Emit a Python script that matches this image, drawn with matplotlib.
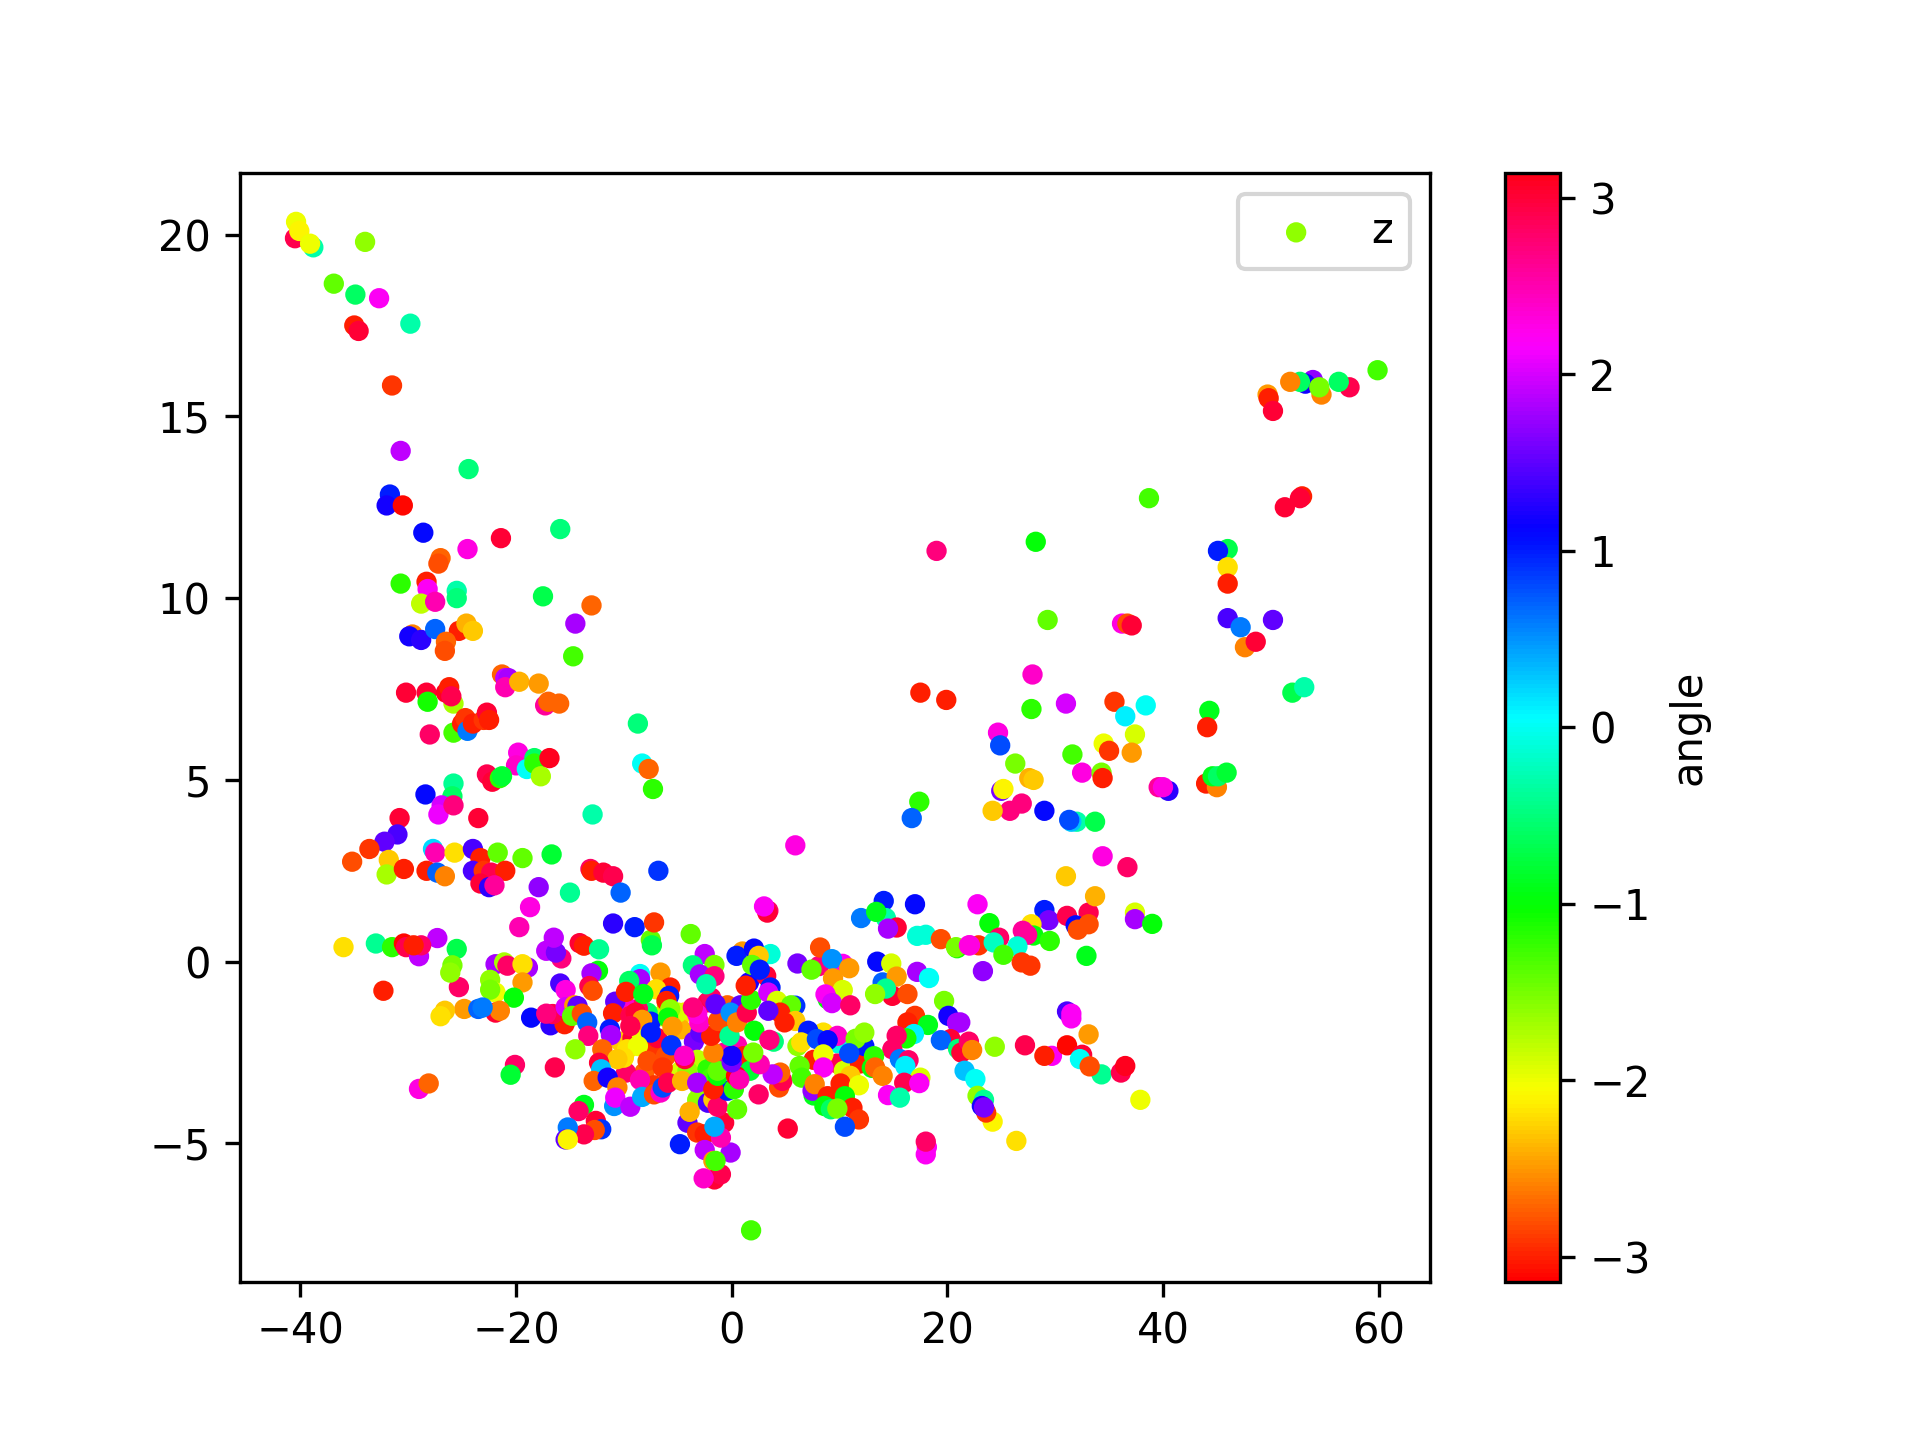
import numpy as np
import matplotlib
matplotlib.use("Agg")
import matplotlib.pyplot as plt

# (x, y, angle) rows, by region of the plot
upper_left = [
(-34,19.8,-1.6),(-40.5,19.9,2.9),(-40.4,20.35,-2.0),(-40.1,20.1,-2.1),(-38.8,19.65,-0.3),(-39.1,19.75,-2.0),
(-36.9,18.65,-1.4),(-34.9,18.35,-0.6),(-32.7,18.25,2.2),(-29.8,17.55,-0.3),(-35,17.5,-3.0),(-34.6,17.35,3.0),
(-31.5,15.85,-2.9),(-30.7,14.05,1.9),(-24.4,13.55,-0.5),(-31.7,12.85,1.0),(-32,12.55,1.2),(-30.5,12.55,-3.1),
(-28.6,11.8,1.1),(-24.5,11.35,2.3),(-21.4,11.65,3.0),(-15.9,11.9,-0.5),(-30.7,10.4,-1.2),(-28.3,10.45,-3.0),
(-28.2,10.25,2.2),(-28.8,9.85,-1.8),(-27.5,9.9,2.5),(-27,11.1,-2.7),(-27.2,10.95,-2.8),(-25.5,10.2,-0.3),
(-25.5,10.0,-0.5),(-17.5,10.05,-0.7),(-13,9.8,-2.7),(-29.6,9.0,-2.6),(-29.9,8.95,1.2),(-28.8,8.85,1.3),
(-27.5,9.15,0.7),(-25.3,9.1,-3.0),(-24.6,9.3,-2.4),(-24,9.1,-2.3),(-14.5,9.3,1.8),(-14.7,8.4,-1.3),
(-26.5,8.8,-2.7),(-26.6,8.55,-2.8),(-21.3,7.9,-2.7),(-21,7.8,1.9),(-20.7,7.8,1.8),(-21,7.55,2.5),
(-19.7,7.7,-2.4),(-17.9,7.65,-2.5),
]
mid_left = [
(-30.2,7.4,3.0),(-28.3,7.4,3.0),(-28.2,7.15,-1.1),(-26.5,7.4,3.1),(-25.8,7.1,-1.7),(-26.2,7.55,-3.0),(-26,7.3,2.9),
(-25.8,6.3,-1.3),(-25,6.55,-3.0),(-24.7,6.7,-2.9),(-24.5,6.35,0.6),(-24,6.55,-3),(-23,6.65,-2.9),
(-22.7,6.85,3),(-22.5,6.65,-3),(-28,6.25,2.8),(-17.3,7.05,2.6),(-17,7.15,-2.7),(-16,7.1,-2.7),
(-8.7,6.55,-0.5),(-8.3,5.45,0),(-7.7,5.3,-2.7),(-7.3,4.75,-1.2),(-19.8,5.75,2.3),(-20,5.4,2.4),
(-19,5.3,0),(-18.3,5.6,-0.6),(-18.3,5.45,-1.2),(-17.7,5.1,-1.7),(-16.9,5.6,3.1),(-22.7,5.15,2.9),
(-22.2,4.95,3),(-21.5,5.05,-1.2),(-21.3,5.1,-0.8),(-25.8,4.9,-0.4),(-25.9,4.55,-0.6),(-28.4,4.6,1.1),
(-26.9,4.3,2.0),(-27.2,4.05,2.1),(-25.8,4.3,2.7),(-23.5,3.95,3),(-30.8,3.95,3.0),(-12.9,4.05,-0.3),
(-31,3.5,1.4),(-32.2,3.3,1.5),(-33.6,3.1,-2.9),(-35.2,2.75,-2.8),(-31.8,2.8,-2.3),(-32,2.4,-1.7),
(-27.7,3.1,0.2),(-27.5,3.0,2.5),(-25.7,3.0,-2.2),(-24,3.1,1.4),(-23.3,2.85,-3.0),(-21.7,3.0,-1.4),
(-19.4,2.85,-1.4),(-16.7,2.95,-0.8),(-30.4,2.55,-3.0),(-28.3,2.5,-3),(-27.3,2.45,0.7),(-26.6,2.35,-2.6),
(-24,2.5,1.4),(-23,2.5,-2.9),(-22.3,2.45,2.9),(-21,2.5,-3),(-23.3,2.15,3),(-22.5,2.05,1.3),(-22,2.1,2.6),
(-13.1,2.55,2.8),(-13,2.5,-3),(-11.9,2.45,3.0),(-11,2.35,2.9),(-10.3,1.9,0.7),(-6.8,2.5,0.9),
(-17.9,2.05,1.7),(-18.7,1.5,2.3),(-15,1.9,-0.4),(-19.7,0.95,2.5),
(-27.3,0.65,1.9),(-25.5,0.35,-0.7),(-36,0.4,-2.2),(-33,0.5,-0.4),(-31.5,0.4,-1.2),(-30.4,0.5,-3.1),
(-30.2,0.4,2.9),(-29,0.15,1.9),(-28.8,0.45,2.8),(-29.5,0.45,-3.0),(-32.3,-0.8,-3),(-25.3,-0.7,2.8),
(-25.9,-0.1,-1.5),(-26.1,-0.3,-1.6),(-24.8,-1.3,-2.5),(-26.6,-1.35,-2.3),(-27,-1.5,-2.2),
(-29,-3.5,2.3),(-28.1,-3.35,-2.7),(-23.5,-1.3,0.7),
]
center_fill = [
(-4.4,-1.4,-2.2),(-4.7,-1.86,-2.4),(-5,-1.4,-1.9),(-3.5,-2.2,1.6),(-2.9,-1.95,1.5),(-2.25,-1.12,2.9),(-0.4,-1.2,-2.7),
(-0.9,-1.9,-2.9),(0.8,-1.2,1.5),(0.5,-2.3,2.5),(1.1,-2.6,-3),(-0.7,-2.5,2.6),(-3.2,-2.7,-1.8),(-4.7,-3,-1.9),
(-4.1,-3,-1.6),(-2.25,-2.96,-1.2),(-1.9,-3.2,-1.3),(-2.9,-3.5,-1.5),(-3.2,-3.8,-1.6),(-7.2,-2.3,-2.9),(-6.9,-2.1,3),
(-6.1,-2.6,-2.8),(-8.1,-3.05,-2.7),(-7.2,-3.4,-2.9),(-9.8,-3.05,2.8),(-10.3,-2.2,-2.3),(-6.6,-1.5,-1.8),(-7.8,-1.4,-0.6),
(-9.2,-2.1,3),(-8.4,-1.95,-2),(-8.7,-1.3,2.8),(-7.5,-1.65,1.0),(-6,-1.2,-1.8),(7.6,-2.7,-3),(9.8,-2.8,2.9),
(10.4,-3,-1.9),(11.9,-2.8,-3),(8.5,-1.95,-2.2),(13,-2.92,-1.0),(7.6,-3.68,-0.9),
]
center_top = [
(-11,1.05,1.3),(-9,0.95,1.0),(-7.5,0.6,-1.4),(-7.2,1.08,-2.9),(-7.4,0.45,-0.7),(-3.8,0.76,-1.4),
(3.4,1.4,2.8),(3.3,1.35,3),(3,1.52,2.2),(14.1,1.67,1.0),(12,1.2,0.6),(14.3,1.2,-0.3),(13.4,1.37,-0.9),
(17,1.58,1.1),(15.3,0.94,3),(14.5,0.91,1.8),(17.2,0.71,-0.1),(18,0.74,-0.1),(19.4,0.62,-2.8),
(20.9,0.37,-1.1),(20.8,0.4,-1.5),(22.9,0.45,-2.9),(22.1,0.45,2.3),
(-21.9,-0.07,1.8),(-21.1,-0.02,-1.7),(-20.8,-0.11,2.8),(-18.9,-0.16,1.8),(-19.4,-0.07,-2.2),(-19.4,-0.57,-2.5),
(-22.4,-0.5,-1.6),(-21.9,-0.85,-2.0),(-22.4,-0.77,-1.5),(-20.2,-0.99,-1),(-21.9,-1.4,3),(-21.5,-1.35,-2.6),(-23.1,-1.26,0.6),
(-17.2,0.3,1.9),(-15.8,0.09,2.7),(-16.3,0.25,1.6),(-16.5,0.66,1.9),(-14.1,0.51,3),(-13.7,0.44,-3),(-12.3,0.34,-0.4),
(-15.9,-0.6,1.4),(-15.4,-0.78,2.3),(-12.4,-0.25,-1.0),(-13,-0.32,1.8),(-13.2,-0.67,2.9),(-12.9,-0.8,-2.8),
(-18.6,-1.54,1.1),(-16.8,-1.75,1.3),(-15.5,-1.72,-3),(-16.6,-1.44,2.9),(-17.2,-1.43,2.7),(-15.4,-1.25,2.0),(-14.6,-1.2,-2.5),
(-14.3,-1.22,1.5),(-14.8,-1.49,-1.4),(-13.9,-1.43,-2.8),(-13.4,-1.67,0.7),(-13.3,-2.04,2.7),(-14.5,-2.41,-1.6),
(-20.1,-2.84,2.8),(-20.5,-3.11,-0.8),(-16.4,-2.91,2.9),
]
center_left = [
(-8.5,-0.34,0),(-8.5,-0.48,1.8),(-9.5,-0.53,-0.6),(-6.6,-0.3,-2.5),(-5.7,-0.71,-3),(-7,-0.76,-2.2),(-5.8,-0.94,1.0),
(-10.0,-1.12,2.4),(-10.8,-1.1,1.5),(-9.8,-0.83,-3),(-8.2,-0.89,-0.9),(-6.05,-1.08,-3),
(-11,-1.42,-3),(-9.4,-1.49,2.9),(-8.9,-1.4,3),(-8.3,-1.6,-2.5),(-5.7,-1.31,-1.6),(-5.9,-1.54,-1),(-5.5,-1.79,-2.5),
(-11.3,-1.86,1.0),(-11.2,-2.02,1.8),(-9.4,-1.77,2.9),(-7.5,-1.95,1.0),(-12,-2.41,-2.7),
(-9.7,-2.41,-2.2),(-8.7,-2.32,-2.0),(-10.0,-2.64,-2.2),(-10.6,-2.68,-2.3),(-7.8,-2.73,-2.8),(-6.4,-2.91,-2.9),
(-5.6,-2.3,0.9),(-4.35,-2.68,3),(-4.4,-2.59,2.4),(-12.3,-2.78,3),(-12.1,-2.96,0.3),(-12.8,-3.28,-2.7),(-11.5,-3.19,1.2),
(-8.5,-3.25,2.5),(-10.6,-3.46,-2.6),(-10.9,-3.97,0.5),(-10.8,-3.74,2.1),(-9.4,-3.99,1.9),(-8.3,-3.72,0.4),
(-7.2,-3.65,-2.8),(-6.6,-3.6,2.4),(-6.4,-3.46,0.8),(-5.9,-3.33,2.9),(-4.6,-3.28,-2.4),(-3.2,-3.33,1.8),
(-13.7,-3.94,-0.9),(-14.2,-4.11,2.8),(-12.6,-4.38,3),(-12.1,-4.61,0.9),(-12.7,-4.63,-2.8),(-13.7,-4.75,2.9),
(-15.2,-4.56,0.6),(-15.4,-4.89,1.5),(-15.2,-4.89,-2.1),
]
center_low = [
(-4.8,-5.02,1.0),(-4.1,-4.43,1.5),(-3.9,-4.13,-2.4),(-3.2,-4.7,-2.9),(-2.5,-4.75,-3),(-2.5,-5.18,1.9),
(-0.1,-5.25,1.8),(-1.7,-5.48,-2.5),(-1.6,-5.99,3),(-1,-5.85,2.9),(-2.6,-5.96,2.4),(-1.5,-5.48,-1.3),
(1.8,-7.39,-1.3),(-0.7,-4.43,3),(-1,-4.84,2.5),(-1.6,-4.54,0.4),(-2.2,-3.88,1.4),(-1.7,-3.79,-2.3),(-1.3,-3.99,2.8),
(0.5,-4.06,-1.4),(-0.4,-3.55,1),(0.2,-3.51,-1.2),(-1.7,-3.51,-3),(-1.3,-3.14,-1),(-1.3,-3,-1.4),
(1.7,-3,-0.8),(0.4,-3.14,-3.1),(0.7,-3.24,2.5),(2.5,-3.65,2.8),(4.4,-3.46,-2.8),(4.7,-3.28,2.9),(4.5,-3.05,-2.7),(3.8,-3.1,1.9),
(5.2,-4.59,3),(0,-2.77,1.6),(0,-2.59,1.2),(2.6,-2.82,2.5),(2,-2.5,-1.5),(-1.7,-2.5,-2.6),(-1.9,-2.04,-3),
(-3,-1.67,2.4),(-3.2,-1.44,2.3),(-3.6,-1.26,2.7),(-1.25,-1.63,-2.8),(-1.9,-0.99,2.8),(-1.5,-1.17,1.5),(-0.2,-2.04,-0.4),
(-2.5,0.21,1.9),(-1.6,-0.09,-1.5),(-3.6,-0.1,-0.5),(-2.95,-0.35,1.8),(-1.6,-0.4,2.7),(-2.35,-0.62,-0.3),
(-0.1,-1.4,0.5),(0.5,-1.67,-2.6),(1.4,-1.4,2.9),(1.8,-1.05,-1.2),(1.6,-0.57,1.2),(1.3,-0.66,-3),
(1,0.28,-2.5),(0.45,0.16,1.0),(2.07,0.36,1.1),(3.6,0.21,-0.1),(2.5,0.16,-2.3),(1.9,-0.09,-1.4),
(3.2,-0.39,3),(2.6,-0.22,1.0),(3.6,-0.71,1.0),(3.4,-0.85,2.0),(4.2,-1.08,-1.9),(5.9,-1.21,0.9),(5.5,-1.2,-1.4),
(4.5,-1.4,-3),(3.4,-1.35,1.5),(5.9,-1.63,-2.3),(4.9,-1.67,-3),(2.1,-1.9,-1),(3.9,-2.2,-0.5),(3.5,-2.15,2.7),
]
center_right = [
(8.1,-0.12,2.7),(8.2,0.39,-2.8),(6.1,-0.05,1.6),(7.4,-0.22,-1.4),(10.3,-0.06,2.2),(9.3,0.07,0.5),(10.9,-0.18,-2.5),
(9.4,-0.46,-2.5),(10.3,-0.78,-1.9),(8.9,-1.03,-1),(8.7,-0.9,2.2),(9.3,-1.14,2.0),(11,-1.2,2.8),
(13.5,0,1.1),(14.8,-0.05,-1.9),(14,-0.57,0.7),(15.3,-0.41,-2.5),(14.9,-0.94,3),(14.3,-0.74,-0.4),(13.3,-0.89,-1.6),
(16.3,-0.89,-2.8),(17.2,-0.28,1.8),(18.3,-0.45,0),(19.7,-1.08,-1.5),(20.1,-1.49,1.2),(21.2,-1.67,1.8),(20.9,-1.68,1.8),
(17,-1.49,-2.9),(18.2,-1.74,-0.9),(16.3,-1.67,-3),(16.9,-1.99,0.1),(16.2,-2.11,-1.1),(15.3,-2.04,2.8),(14.9,-2.41,2.8),
(20.3,-2.13,3),(19.4,-2.16,0.7),(21,-2.4,-0.5),(21.3,-2.5,3),(22,-2.2,2.8),(22.3,-2.43,-2.6),
(7.1,-1.9,1),(6.1,-2.32,-1.6),(6.45,-2.22,-2.2),(7.9,-2.13,0.8),(9.8,-2.24,-0.1),(9.8,-2.04,2.4),(8.9,-2.16,1.1),
(12.3,-2.32,1),(11.5,-2.12,-1.5),(12.3,-1.95,-1.6),(13.2,-2.6,-1.2),(10.9,-2.52,0.8),(15.6,-2.68,0.6),(16.4,-2.71,2.8),
(8.5,-2.55,-2.0),(8.5,-2.91,2.2),(6.3,-2.87,-1.4),(6.5,-3.19,-1.3),(7.5,-3.55,1.7),(7.7,-3.37,-2.6),
(11,-3.14,-2.3),(10.1,-3.35,-3),(11.8,-3.4,-2.0),(13.3,-2.91,-2.7),(14,-3.14,-2.6),(16.1,-2.87,0.1),
(17.5,-3.19,-1.9),(16,-3.33,2.9),(17.4,-3.34,2.2),(14.5,-3.67,2.2),(15.6,-3.74,-0.3),
(8.9,-3.7,-3),(8.6,-3.97,-1),(9.2,-4.06,-0.6),(10.5,-3.7,-1),(11.2,-4.02,-3),(11.8,-4.34,-2.9),(9.8,-4.04,-1.5),(10.5,-4.54,0.8),
(18,-5.3,2.2),(18.1,-5.1,2.2),(18,-4.95,2.8),
]
lower_right = [
(22.8,1.58,2.2),(29,1.42,1),(29.4,1.14,1.6),(23.9,1.06,-1),(27.8,1.03,-2.2),(31.1,1.26,2.9),(33.1,1.35,2.9),
(31.9,1.0,1.1),(33.1,1.03,-2.8),(32.1,0.88,-2.8),(37.4,1.35,-1.9),(37.4,1.17,1.8),(39,1.04,-1),(33.7,1.8,-2.4),
(28,0.72,-1),(27,0.85,2.6),(27.4,0.74,2.6),(29.5,0.57,-1.2),(32.9,0.16,-0.9),(24.8,0.66,2.8),(24.3,0.53,-0.2),
(26.5,0.42,-0.1),(25.2,0.19,-1.3),(22.0,0.45,2.3),(26.9,-0.02,-2.9),(27.7,-0.11,-2.9),(23.3,-0.26,1.7),
(31.1,-1.37,1.4),(31.5,-1.43,2.2),(31.5,-1.56,2.2),(33.1,-2,-2.5),
(27.2,-2.3,2.9),(24.4,-2.34,-1.6),(29.7,-2.59,2.2),(29,-2.59,-3),(31.1,-2.3,-3.1),(32.5,-2.56,3),(32.3,-2.68,0),
(34.3,-3.1,-0.4),(33.2,-2.88,-2.8),(36.1,-3.05,2.9),(36.5,-2.87,3.1),(37.9,-3.8,-2.0),
(21.6,-3,0.3),(22.6,-3.23,0),(22.8,-3.69,-1.6),(23.4,-3.8,-0.4),(24.2,-4.4,-2.1),(23.6,-4.15,-2.9),(23.2,-3.97,1.2),(23.4,-4.01,1.6),
(26.4,-4.93,-2.2),
]
right_arm = [
(59.9,16.27,-1.3),(57.3,15.8,2.9),(56.3,15.95,-0.6),(54.7,15.6,-2.6),(53.9,16,1.7),(53.2,15.9,1.2),(52.7,15.95,-0.6),
(54.5,15.8,-1.5),(51.8,15.95,-2.6),(49.7,15.6,-2.5),(49.8,15.5,-3),(50.2,15.15,3),(52.9,12.8,-3),(52.7,12.75,3),(51.3,12.5,3),
(38.7,12.75,-1.3),(28.2,11.55,-1),(19,11.3,2.7),(46,11.35,-0.7),(45.1,11.3,1),(46,10.85,-2.2),(46,10.4,-3),
(46,9.45,1.4),(47.2,9.2,0.6),(50.2,9.4,1.5),(47.6,8.65,-2.6),(48.6,8.8,3),(29.3,9.4,-1.4),(36.2,9.3,2.3),(36.7,9.3,-2.8),(37.1,9.25,3),
(52,7.4,-0.7),(53.1,7.55,-0.3),(27.9,7.9,2.4),(17.5,7.4,-3),(19.9,7.2,-3),(35.5,7.15,-2.9),(31,7.1,2.0),(38.4,7.05,0),
(27.8,6.95,-1.2),(44.3,6.9,-0.9),(44.1,6.45,-3),(36.5,6.75,0.1),(37.4,6.25,-1.9),(34.5,6,-2),(24.7,6.3,2.3),(24.9,5.95,0.8),
(35,5.8,-2.9),(31.6,5.7,-1.3),(37.1,5.75,-2.5),(26.3,5.45,-1.5),(32.5,5.2,2.3),(34.3,5.2,-1.5),(34.4,5.05,-3),(27.6,5.05,-2.4),(28,5.0,-2.3),
(25,4.7,1.6),(25.2,4.75,-2.1),(26.9,4.35,2.7),(25.8,4.15,2.7),(24.2,4.15,-2.3),(29,4.15,1.1),(17.4,4.4,-1.2),(16.7,3.95,0.7),
(32,3.85,-0.3),(31.5,3.85,0.3),(31.3,3.9,0.8),(33.7,3.85,-0.7),(39.6,4.8,2.6),(40.5,4.7,1.3),(40,4.8,2.3),(44,4.9,-3),(45,4.8,-2.6),(44.6,5.1,-0.9),
(45.1,5.1,-0.6),(45.9,5.2,-0.8),(5.9,3.2,2.3),(34.4,2.9,2.3),(36.7,2.6,2.8),(31,2.35,-2.3),
]

rows = np.array(upper_left + mid_left + center_fill + center_top + center_left + center_low
                + center_right + lower_right + right_arm)
x, y, angle = rows[:, 0], rows[:, 1], rows[:, 2]

fig, ax = plt.subplots(figsize=(6.4, 4.8), dpi=300)
sc = ax.scatter(x, y, c=angle, s=15, cmap="hsv", vmin=-np.pi, vmax=np.pi, label="z")
ax.set_xlim(-45.6, 64.8)
ax.set_ylim(-8.8, 21.7)
ax.legend(loc="upper right")
cb = fig.colorbar(sc, ax=ax, ticks=[-3, -2, -1, 0, 1, 2, 3])
cb.set_label("angle")
fig.savefig("out.png", dpi=300)
